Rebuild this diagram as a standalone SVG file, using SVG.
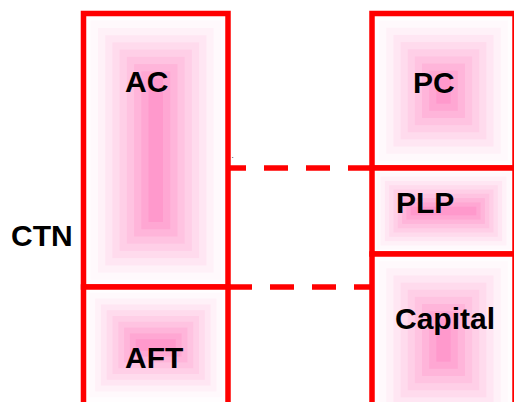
<svg xmlns="http://www.w3.org/2000/svg" width="514" height="402" viewBox="0 0 514 402">
<style>
.g0{fill:#fffdfe}.g1{fill:#fff9fc}.g2{fill:#fff1f8}.g3{fill:#ffe6f3}.g4{fill:#ffdbed}
.g5{fill:#ffcfe7}.g6{fill:#ffc3e1}.g7{fill:#ffb5da}.g8{fill:#ffa7d3}.g9{fill:#ff99cc}
.box{fill:none;stroke:#ff0000;stroke-width:5.5}
.lbl{font-family:"Liberation Sans",Arial,sans-serif;font-weight:bold;font-size:30px;fill:#000}
.conn{stroke:#ff0000;stroke-width:5.5;stroke-dasharray:24 18;fill:none}
</style>
<rect width="514" height="402" fill="#ffffff"/>
<g id="AC">
<rect class="g0" x="83.5" y="13.5" width="144.5" height="273.5"/>
<rect class="g1" x="90.7" y="20.7" width="130.1" height="259.1"/>
<rect class="g2" x="98" y="28" width="115.6" height="244.6"/>
<rect class="g3" x="105.2" y="35.2" width="101.2" height="230.2"/>
<rect class="g4" x="112.4" y="42.4" width="86.7" height="215.7"/>
<rect class="g5" x="119.6" y="49.6" width="72.3" height="201.3"/>
<rect class="g6" x="126.9" y="56.9" width="57.8" height="186.8"/>
<rect class="g7" x="134.1" y="64.1" width="43.4" height="172.4"/>
<rect class="g8" x="141.3" y="71.3" width="28.9" height="157.9"/>
<rect class="g9" x="148.5" y="78.5" width="14.5" height="143.5"/>
<rect class="box" x="83.5" y="13.5" width="144.5" height="273.5"/>
<text class="lbl" x="125" y="92">AC</text>
</g>
<g id="AFT">
<rect class="g0" x="83.5" y="287" width="144.5" height="116"/>
<rect class="g1" x="89.3" y="292.8" width="132.9" height="104.4"/>
<rect class="g2" x="95.1" y="298.6" width="121.3" height="92.8"/>
<rect class="g3" x="100.9" y="304.4" width="109.7" height="81.2"/>
<rect class="g4" x="106.7" y="310.2" width="98.1" height="69.6"/>
<rect class="g5" x="112.5" y="316" width="86.5" height="58"/>
<rect class="g6" x="118.3" y="321.8" width="74.9" height="46.4"/>
<rect class="g7" x="124.1" y="327.6" width="63.3" height="34.8"/>
<rect class="g8" x="129.9" y="333.4" width="51.7" height="23.2"/>
<rect class="g9" x="135.7" y="339.2" width="40.1" height="11.6"/>
<rect class="box" x="83.5" y="287" width="144.5" height="125"/>
<text class="lbl" x="125" y="368">AFT</text>
</g>
<g id="PC">
<rect class="g0" x="372" y="13.5" width="143" height="154.5"/>
<rect class="g1" x="379.15" y="20.65" width="128.7" height="140.2"/>
<rect class="g2" x="386.3" y="27.8" width="114.4" height="125.9"/>
<rect class="g3" x="393.45" y="34.95" width="100.1" height="111.6"/>
<rect class="g4" x="400.6" y="42.1" width="85.8" height="97.3"/>
<rect class="g5" x="407.75" y="49.25" width="71.5" height="83"/>
<rect class="g6" x="414.9" y="56.4" width="57.2" height="68.7"/>
<rect class="g7" x="422.05" y="63.55" width="42.9" height="54.4"/>
<rect class="g8" x="429.2" y="70.7" width="28.6" height="40.1"/>
<rect class="g9" x="436.35" y="77.85" width="14.3" height="25.8"/>
<rect class="box" x="372" y="13.5" width="143" height="154.5"/>
<text class="lbl" x="413" y="93">PC</text>
</g>
<g id="PLP">
<rect class="g0" x="372" y="168" width="143" height="86"/>
<rect class="g1" x="376.3" y="172.3" width="134.4" height="77.4"/>
<rect class="g2" x="380.6" y="176.6" width="125.8" height="68.8"/>
<rect class="g3" x="384.9" y="180.9" width="117.2" height="60.2"/>
<rect class="g4" x="389.2" y="185.2" width="108.6" height="51.6"/>
<rect class="g5" x="393.5" y="189.5" width="100" height="43"/>
<rect class="g6" x="397.8" y="193.8" width="91.4" height="34.4"/>
<rect class="g7" x="402.1" y="198.1" width="82.8" height="25.8"/>
<rect class="g8" x="406.4" y="202.4" width="74.2" height="17.2"/>
<rect class="g9" x="410.7" y="206.7" width="65.6" height="8.6"/>
<rect class="box" x="372" y="168" width="143" height="86"/>
<text class="lbl" x="396" y="213">PLP</text>
</g>
<g id="Capital">
<rect class="g0" x="372" y="254" width="143" height="172"/>
<rect class="g1" x="379.15" y="261.15" width="128.7" height="157.7"/>
<rect class="g2" x="386.3" y="268.3" width="114.4" height="143.4"/>
<rect class="g3" x="393.45" y="275.45" width="100.1" height="129.1"/>
<rect class="g4" x="400.6" y="282.6" width="85.8" height="114.8"/>
<rect class="g5" x="407.75" y="289.75" width="71.5" height="100.5"/>
<rect class="g6" x="414.9" y="296.9" width="57.2" height="86.2"/>
<rect class="g7" x="422.05" y="304.05" width="42.9" height="71.9"/>
<rect class="g8" x="429.2" y="311.2" width="28.6" height="57.6"/>
<rect class="g9" x="436.35" y="318.35" width="14.3" height="43.3"/>
<rect class="box" x="372" y="254" width="143" height="172"/>
<text class="lbl" x="395" y="329">Capital</text>
</g>
<g id="CTN">
<text class="lbl" x="11" y="245.5">CTN</text>
</g>
<g id="connectors">
<line class="conn" x1="372" y1="168" x2="228" y2="168"/>
<line class="conn" x1="228" y1="287" x2="372" y2="287"/>
</g>
<text x="231.5" y="158" font-family="Liberation Sans, Arial, sans-serif" font-size="8" fill="#000">.</text>
</svg>
